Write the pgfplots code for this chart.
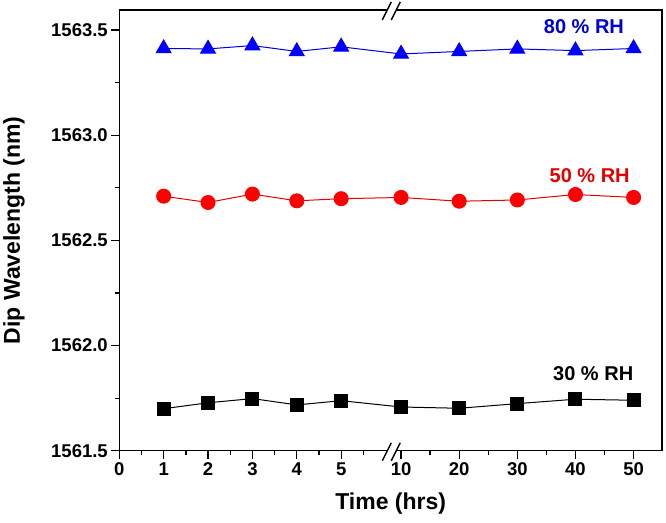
\documentclass[border=0pt]{standalone}
\usepackage{pgfplots}
\pgfplotsset{compat=1.18}
\usetikzlibrary{calc}
\usepackage{fontspec}
\setmainfont{Liberation Sans}

% x positions: 1..5 as is, 10..50 squeezed after the axis break
\pgfplotstableread{
x    y
1    1561.700
2    1561.728
3    1561.748
4    1561.718
5    1561.738
6.35 1561.708
7.66 1561.702
8.97 1561.724
10.28 1561.745
11.59 1561.740
}\rhthirty
\pgfplotstableread{
x    y
1    1562.710
2    1562.680
3    1562.720
4    1562.688
5    1562.698
6.35 1562.704
7.66 1562.686
8.97 1562.692
10.28 1562.718
11.59 1562.704
}\rhfifty
\pgfplotstableread{
x    y
1    1563.412
2    1563.410
3    1563.426
4    1563.398
5    1563.420
6.35 1563.386
7.66 1563.398
8.97 1563.410
10.28 1563.402
11.59 1563.412
}\rheighty

\tikzset{brk/.style={line width=1.4pt}}

\begin{document}
\begin{tikzpicture}
\begin{axis}[
    scale only axis,
    width=543pt, height=441pt,
    xmin=0, xmax=12.23,
    ymin=1561.5, ymax=1563.595,
    clip=false,
    axis line style={line width=1.3pt},
    tick align=outside,
    xtick pos=bottom, ytick pos=left,
    tick style={line width=1.3pt, black},
    major tick length=8pt, minor tick length=4.5pt,
    xtick={0,1,2,3,4,5,6.35,7.66,8.97,10.28,11.59},
    xticklabels={0,1,2,3,4,5,10,20,30,40,50},
    minor xtick={0.5,1.5,2.5,3.5,4.5,5.5,7.005,8.315,9.625,10.935},
    ytick={1561.5,1562,1562.5,1563,1563.5},
    minor ytick={1561.75,1562.25,1562.75,1563.25},
    /pgf/number format/assume math mode=true,
    yticklabel style={/pgf/number format/.cd, fixed, fixed zerofill, precision=1, 1000 sep={}},
    tick label style={font=\bfseries\fontsize{18.5}{22}\selectfont},
    xlabel={Time (hrs)},
    ylabel={Dip Wavelength (nm)},
    xlabel style={at={(rel axis cs:0.5,-0.1338)}, anchor=base,
        font=\bfseries\fontsize{23}{27}\selectfont},
    ylabel style={at={(rel axis cs:-0.1675,0.5)}, anchor=south,
        font=\bfseries\fontsize{23}{27}\selectfont},
]
\addplot[black, line width=1pt, mark=square*, mark size=6.5pt] table[x=x, y=y] {\rhthirty};
\addplot[red!90!black, line width=1pt, mark=*, mark options={fill=red, draw=red}, mark size=7pt] table[x=x, y=y] {\rhfifty};
\addplot[blue!85!black, line width=1pt, mark=triangle*, mark options={fill=blue, draw=blue}, mark size=8.5pt] table[x=x, y=y] {\rheighty};

\node[font=\bfseries\fontsize{20}{24}\selectfont, text=blue!85!black] at (axis cs:10.47,1563.515) {80 \% RH};
\node[font=\bfseries\fontsize{20}{24}\selectfont, text=red!90!black] at (axis cs:10.6,1562.81) {50 \% RH};
\node[font=\bfseries\fontsize{20}{24}\selectfont, text=black] at (axis cs:10.68,1561.867) {30 \% RH};

% axis break marks, bottom and top
\fill[white] ($(rel axis cs:0.503,0)+(-5pt,-2pt)$) rectangle ++(10pt,4pt);
\draw[brk] ($(rel axis cs:0.503,0)+(-10pt,-10pt)$) -- ++(9pt,18pt);
\draw[brk] ($(rel axis cs:0.503,0)+(-1pt,-10pt)$) -- ++(9pt,18pt);
\fill[white] ($(rel axis cs:0.503,1)+(-5pt,-2pt)$) rectangle ++(10pt,4pt);
\draw[brk] ($(rel axis cs:0.503,1)+(-10pt,-10pt)$) -- ++(9pt,18pt);
\draw[brk] ($(rel axis cs:0.503,1)+(-1pt,-10pt)$) -- ++(9pt,18pt);

% page extent as in the reference
\path (rel axis cs:0,0) ++(-119pt,-72pt) coordinate (ll);
\path (rel axis cs:1,1) ++(4pt,10pt) coordinate (ur);
\end{axis}
\useasboundingbox (ll) rectangle (ur);
\end{tikzpicture}
\end{document}
